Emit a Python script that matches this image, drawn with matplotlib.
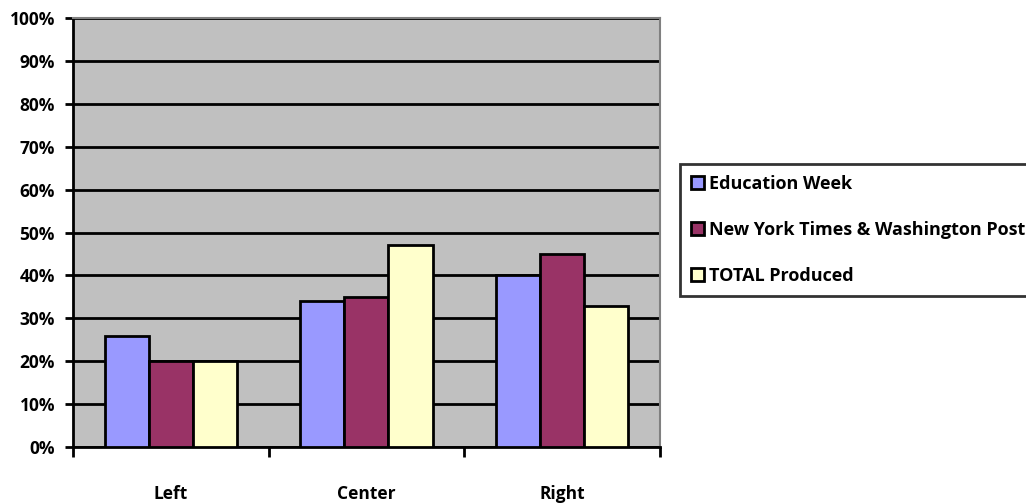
import matplotlib.pyplot as plt
import numpy as np
from matplotlib.ticker import PercentFormatter

# data
categories = ['Left', 'Center', 'Right']
series_names = ['Education Week', 'New York Times & Washington Post', 'TOTAL Produced']
education_week = [26, 34, 40]
nyt_wapo = [20, 35, 45]
total_produced = [20, 47, 33]

colors = ['#9999FF', '#993366', '#FFFFCC']

plt.rcParams['font.family'] = ['Open Sans', 'DejaVu Sans']
plt.rcParams['font.weight'] = 'bold'

fig = plt.figure(figsize=(10.26, 5.04), dpi=100)
ax = fig.add_axes([0.0712, 0.113, 0.572, 0.851])
ax.set_facecolor('#C0C0C0')

x = np.arange(len(categories))
width = 0.225
for i, (vals, name) in enumerate(zip([education_week, nyt_wapo, total_produced], series_names)):
    ax.bar(x + (i - 1) * width, vals, width, color=colors[i], edgecolor='black',
           linewidth=2, label=name, zorder=3)

ax.set_xlim(-0.5, len(categories) - 0.5)
ax.set_ylim(0, 100)
ax.set_yticks(np.arange(0, 101, 10))
ax.yaxis.set_major_formatter(PercentFormatter(decimals=0))
ax.grid(axis='y', color='black', linewidth=2, zorder=1)
ax.set_axisbelow(True)

# category ticks sit on the boundaries, labels centred underneath
ax.set_xticks(np.arange(-0.5, len(categories), 1.0))
ax.set_xticklabels([])
ax.set_xticks(x, minor=True)
ax.set_xticklabels(categories, minor=True, fontsize=12.5, fontweight='bold')
ax.tick_params(axis='x', which='minor', length=0, pad=27)
ax.tick_params(axis='x', which='major', length=7, width=2, direction='out')
ax.tick_params(axis='y', length=6, width=2, labelsize=12.5, pad=7)
for lbl in ax.get_yticklabels():
    lbl.set_fontweight('bold')

for side in ['top', 'right']:
    ax.spines[side].set_color('#808080')
    ax.spines[side].set_linewidth(1.5)
for side in ['left', 'bottom']:
    ax.spines[side].set_color('black')
    ax.spines[side].set_linewidth(2)

leg = ax.legend(loc='upper left', bbox_to_anchor=(1.035, 0.66), frameon=True,
                fancybox=False, edgecolor='black', fontsize=13,
                handlelength=0.7, handleheight=0.7, handletextpad=0.3,
                labelspacing=1.55, borderpad=0.6, borderaxespad=0)
leg.get_frame().set_linewidth(2)
for t in leg.get_texts():
    t.set_fontweight('bold')
for h in leg.legend_handles:
    h.set_linewidth(2)

fig.savefig('out.png', dpi=100)
